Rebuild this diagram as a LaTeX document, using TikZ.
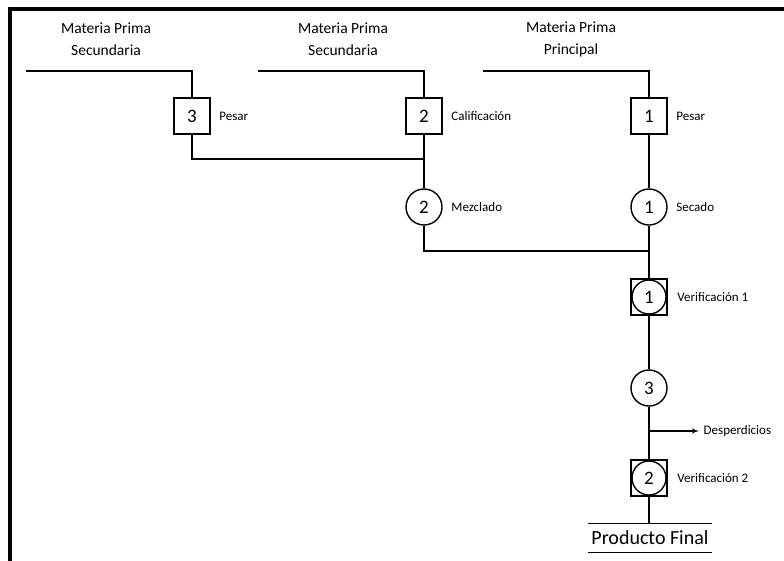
\documentclass[tikz,border=0pt]{standalone}
\usepackage{fontspec}
\setmainfont{Carlito}
\usetikzlibrary{arrows}
\usetikzlibrary{positioning}
\usetikzlibrary{calc}

\begin{document}
\begin{tikzpicture}[x=1pt,y=-1pt,node distance=8pt,>=latex',line width=1.4pt,every node/.append style={align=center},
        op/.style={draw, circle, minimum size=36pt, inner sep=0pt, font=\fontsize{19}{19}\selectfont},
        box/.style={draw, rectangle, minimum size=36pt, inner sep=0pt, font=\fontsize{19}{19}\selectfont},
        lbl/.style={inner sep=0pt, font=\fontsize{13}{13}\selectfont},
        src/.style={font=\fontsize{15.5}{22}\selectfont}]
        \useasboundingbox (0,0) rectangle (784,560);
        \draw[line width=4pt] (10,600) -- (10,9) -- (800,9);

        % materias primas
        \node [src] (T3) at (106,39) {Materia Prima\\Secundaria};
        \node [src] (T2) at (343,39) {Materia Prima\\Secundaria};
        \node [src] (T1) at (571,39) {Materia Prima\\Principal};
        \coordinate (s3) at (26,71);
        \coordinate (s2) at (258,71);
        \coordinate (s1) at (483,71);

        \node [box] (B3) at (192,116) {3};
        \node [box] (B2) at (424,116) {2};
        \node [box] (B1) at (649,116) {1};
        \node [lbl, right=of B3] {Pesar};
        \node [lbl, right=of B2] {Calificación};
        \node [lbl, right=of B1] {Pesar};

        \node [op] (M2) at (424,207) {2};
        \node [op] (S1) at (649,207) {1};
        \node [lbl, right=of M2] {Mezclado};
        \node [lbl, right=of S1] {Secado};

        \node [box] (V1) at (649,297) {};
        \node [op, minimum size=34pt] (V1c) at (V1) {1};
        \node [lbl, right=9pt of V1] {Verificación 1};

        \node [op] (O3) at (649,388) {3};
        \node [box] (V2) at (649,478) {};
        \node [op, minimum size=34pt] (V2c) at (V2) {2};
        \node [lbl, right=9pt of V2] {Verificación 2};

        \coordinate (j1) at (424,159);
        \coordinate (j2) at (649,251);
        \coordinate (j3) at (649,431);
        \node [lbl, anchor=west, inner xsep=4pt] (D) at (699,431) {Desperdicios};

        \node [minimum width=123pt, minimum height=28pt, inner sep=0pt, font=\fontsize{20}{20}\selectfont] (PF) at (650,538) {Producto Final};
        \draw (PF.north west) -- (PF.north east);
        \draw (PF.south west) -- (PF.south east);

        % conexiones
        \draw (s3) -| (B3);
        \draw (s2) -| (B2);
        \draw (s1) -| (B1);
        \draw (B3) |- (j1);
        \path (B2) edge (M2);
        \path (B1) edge (S1);
        \draw (M2) |- (j2);
        \path (S1) edge (V1);
        \path (V1) edge (O3);
        \path (O3) edge (V2);
        \draw (V2.south) -- (V2.south |- PF.north);
        \path[->] (j3) edge (D.west);
    \end{tikzpicture}
\end{document}
